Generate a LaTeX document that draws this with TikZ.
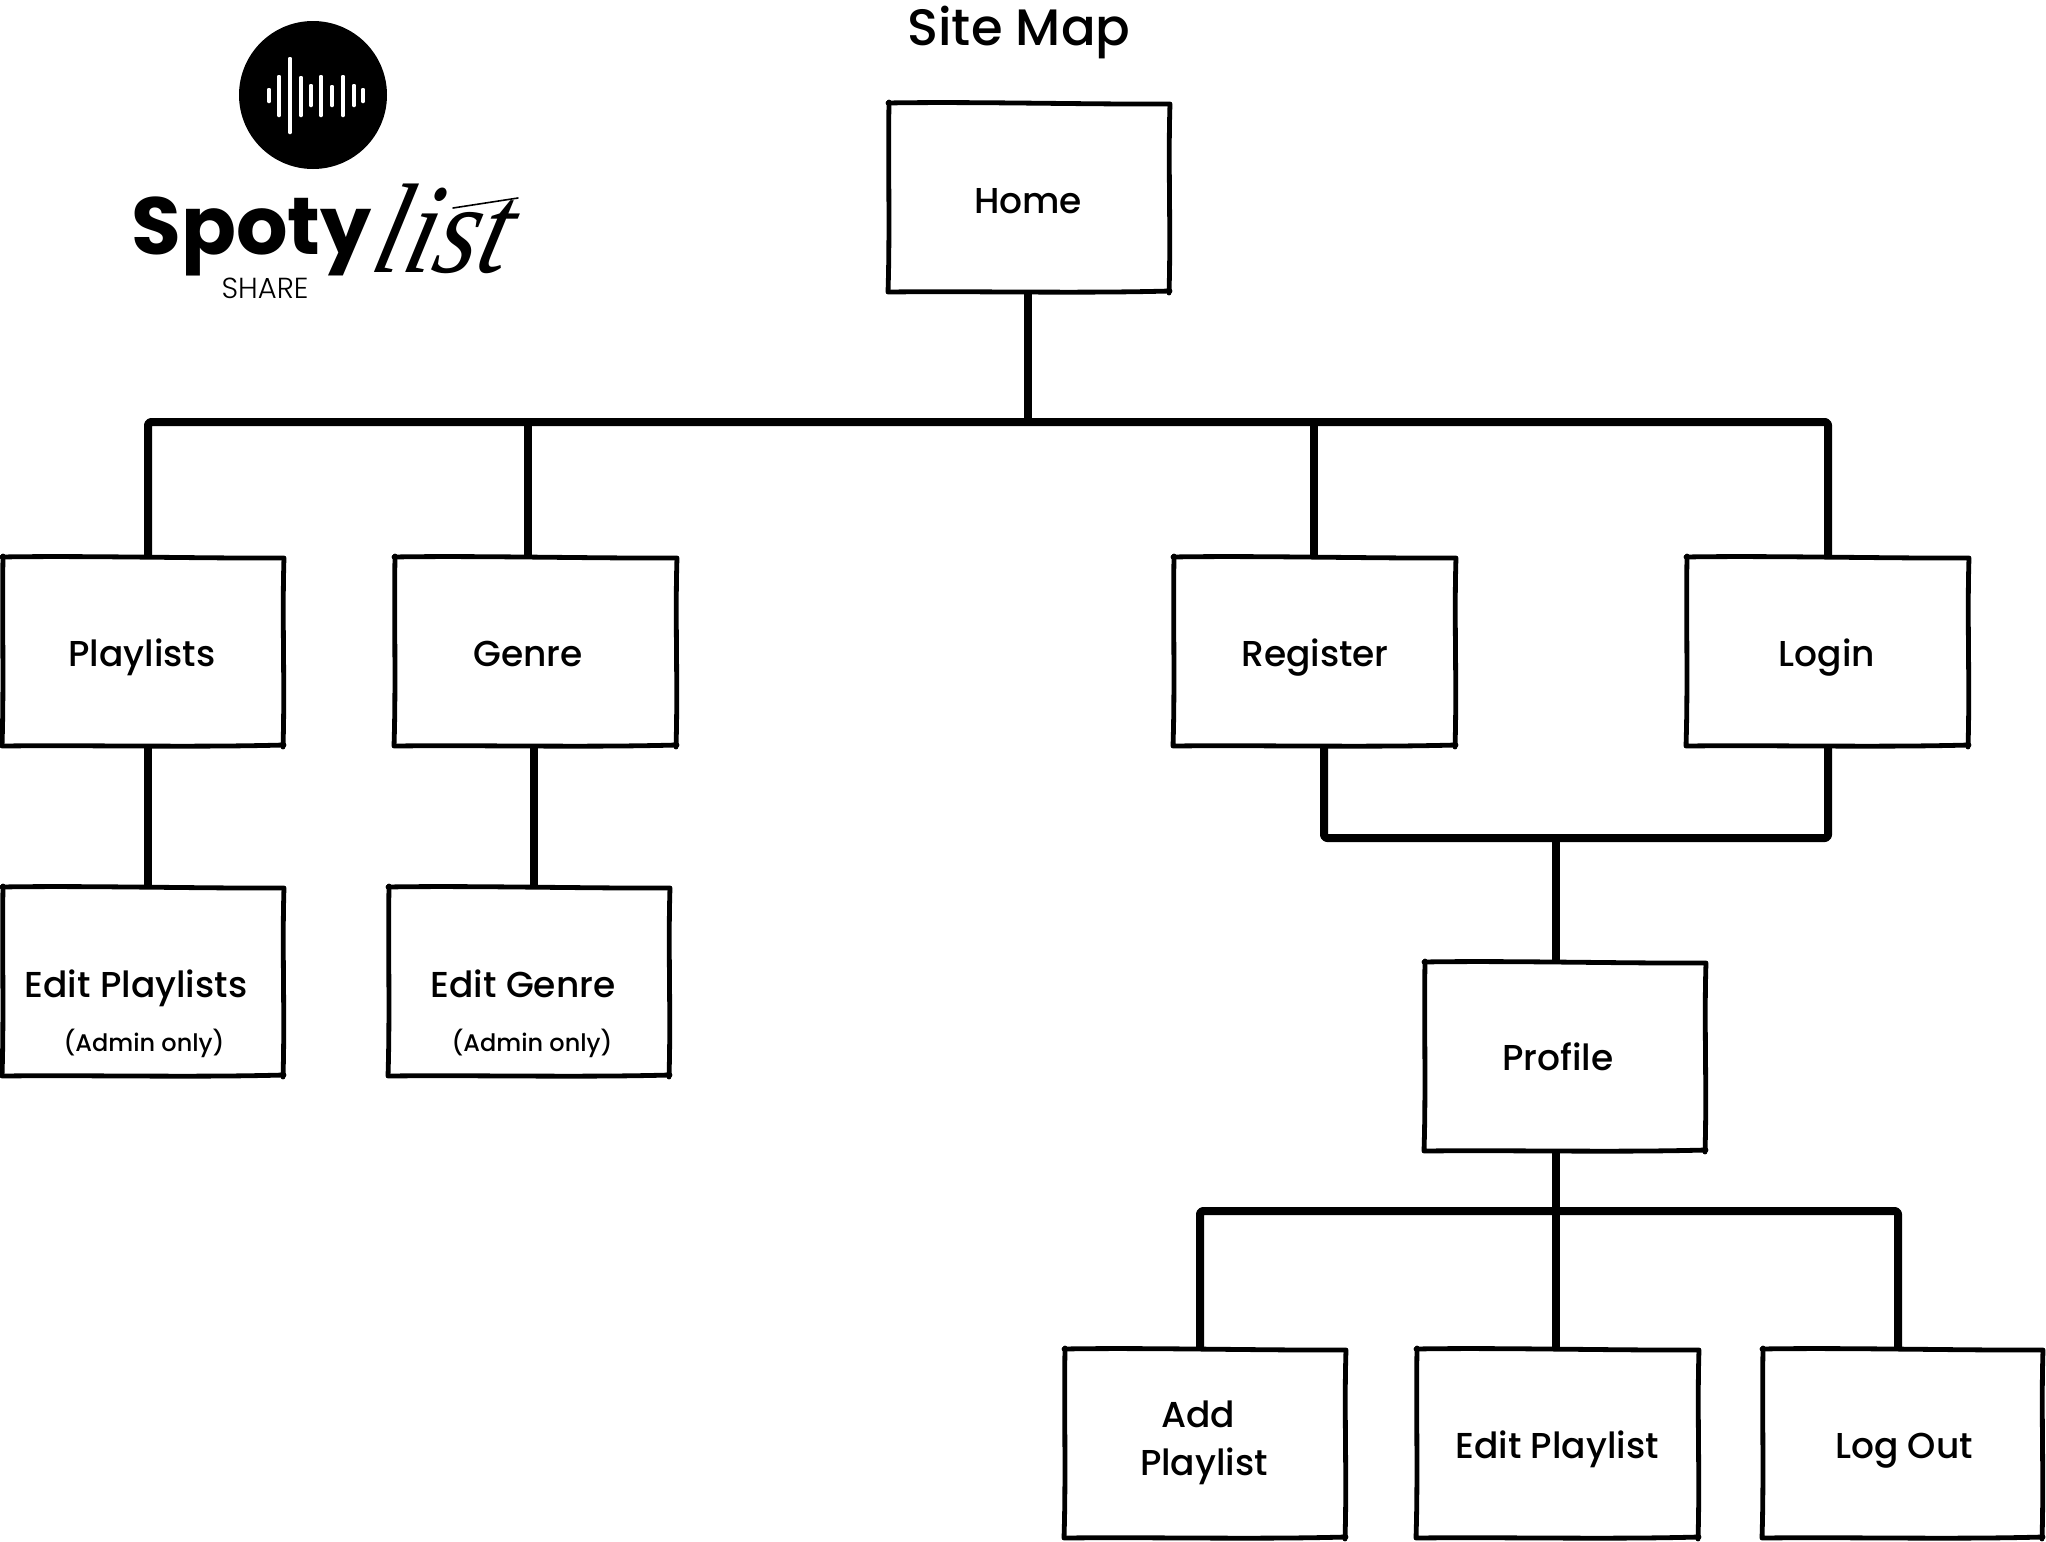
\documentclass[tikz,border=0pt]{standalone}
\usepackage{fontspec}
\setmainfont{Poppins}
\newfontfamily\medf{Poppins Medium}
\newfontfamily\boldf{Poppins Bold}
\newfontfamily\lightf{Poppins Light}
\newfontfamily\scriptf{Liberation Serif Italic}
\tikzset{
  skb/.style={draw=none,inner sep=0pt,outer sep=0pt},
  skl/.style={line width=2.4pt,line cap=round,line join=round,black},
  conn/.style={line width=4pt,line cap=butt,line join=round,black},
  lab/.style={inner sep=0pt,text height=16pt,text depth=4pt,font=\medf\fontsize{18}{20}\selectfont},
  small/.style={inner sep=0pt,text height=14pt,text depth=4pt,font=\medf\fontsize{12}{14}\selectfont},
  bar/.style={fill=white,draw=none,rounded corners=0.5pt}
}
\newcommand\skbox[5]{%
  \path ({(#2+#4)/2},{(#3+#5)/2}) node[skb,minimum width={(#4-#2)*0.5pt},minimum height={(#5-#3)*0.5pt}] (#1) {};
  \draw[skl] ([shift={(-1,0)}]#1.north west) .. controls ([shift={(80,-1.5)}]#1.north west) and ([shift={(-80,1.5)}]#1.north east) .. ([shift={(1,1)}]#1.north east)
     .. controls ([shift={(-1,60)}]#1.north east) and ([shift={(2,-60)}]#1.south east) .. ([shift={(0,1)}]#1.south east);
  \draw[skl] ([shift={(1,-1)}]#1.south east) .. controls ([shift={(-90,1.5)}]#1.south east) and ([shift={(90,-1)}]#1.south west) .. ([shift={(-1,0)}]#1.south west)
     .. controls ([shift={(1,-60)}]#1.south west) and ([shift={(-1,60)}]#1.north west) .. ([shift={(0,-1)}]#1.north west);
}
\begin{document}
\begin{tikzpicture}[x=0.5pt,y=-0.5pt]
\useasboundingbox (0,0) rectangle (2046,1542);
% boxes
\skbox{home}{889}{103}{1169}{292}
\skbox{playlists}{3}{557}{283}{746}
\skbox{genre}{395}{557}{676}{746}
\skbox{register}{1174}{557}{1455}{746}
\skbox{login}{1687}{557}{1968}{746}
\skbox{editpl}{3}{887}{283}{1076}
\skbox{editge}{389}{887}{669}{1076}
\skbox{profile}{1425}{962}{1705}{1151}
\skbox{addpl}{1065}{1349}{1345}{1538}
\skbox{editp}{1417}{1349}{1698}{1538}
\skbox{logout}{1763}{1349}{2042}{1538}
% bus points
\coordinate (bh) at (1028,422);
\coordinate (bp) at (148,422);
\coordinate (bg) at (528,422);
\coordinate (br) at (1314,422);
\coordinate (bl) at (1828,422);
\coordinate (m1) at (1324,838);
\coordinate (m2) at (1828,838);
\coordinate (mp) at (1556,838);
\coordinate (c1) at (1200,1211);
\coordinate (c2) at (1556,1211);
\coordinate (c3) at (1898,1211);
\coordinate (ge) at (534,800);
% connectors
\draw[conn] (bh |- home.south) -- (bh);
\draw[conn,rounded corners=1.5pt] (bp |- playlists.north) -- (bp) -- (bl) -- (bl |- login.north);
\draw[conn] (bg) -- (bg |- genre.north);
\draw[conn] (br) -- (br |- register.north);
\draw[conn] (bp |- playlists.south) -- (bp |- editpl.north);
\draw[conn] (ge |- genre.south) -- (ge |- editge.north);
\draw[conn,rounded corners=1.5pt] (m1 |- register.south) -- (m1) -- (m2) -- (m2 |- login.south);
\draw[conn] (mp) -- (mp |- profile.north);
\draw[conn] (c2 |- profile.south) -- (c2) -- (c2 |- editp.north);
\draw[conn,rounded corners=1.5pt] (c1 |- addpl.north) -- (c1) -- (c3) -- (c3 |- logout.north);
% labels
\node[anchor=base,inner sep=0pt,font=\medf\fontsize{25.6}{30}\selectfont] (title) at (1019,45) {Site Map};
\node[lab] (tHome) at (1028,201) {Home};
\node[lab] (tPl) at (142,654) {Playlists};
\node[lab] (tGe) at (528,654) {Genre};
\node[lab] (tRe) at (1315,654) {Register};
\node[lab] (tLo) at (1827,654) {Login};
\node[lab] (tEp) at (136,985) {Edit Playlists};
\node[small] (tAd1) at (144,1041) {(Admin only)};
\node[lab] (tEg) at (523,985) {Edit Genre};
\node[small] (tAd2) at (532,1041) {(Admin only)};
\node[lab] (tPr) at (1558,1058) {Profile};
\node[lab] (tAdd) at (1198,1415) {Add};
\node[lab] (tAdp) at (1204,1463) {Playlist};
\node[lab] (tEdp) at (1557,1446) {Edit Playlist};
\node[lab] (tLog) at (1904,1446) {Log Out};
% logo
\fill[black] (313,95) circle [radius=37pt];
\foreach \x/\a/\b in {269/88/103, 279/75/117, 290/57/134, 301/76/117, 311/84/107, 321/75/117, 332/85/107, 343/75/117, 354/84/107, 363/88/103}
  \fill[bar] ({\x-1.8},\a) rectangle ({\x+1.8},\b);
\node[anchor=base west,inner sep=0pt,font=\boldf\fontsize{40.5}{44}\selectfont] (spoty) at (131,254) {Spoty};
\node[inner sep=0pt,font=\lightf\fontsize{14.5}{16}\selectfont] (share) at (265,288) {SHARE};
\node[anchor=base west,inner sep=0pt,font=\scriptf\fontsize{44}{44}\selectfont,xscale=1.25,yscale=1.45,xslant=0.3] (lst) at (368,272) {list};
\coordinate (ta) at (453,208);
\coordinate (tb) at (518,198);
\draw[line width=0.8pt,line cap=round] (ta) -- (tb);
\end{tikzpicture}
\end{document}
